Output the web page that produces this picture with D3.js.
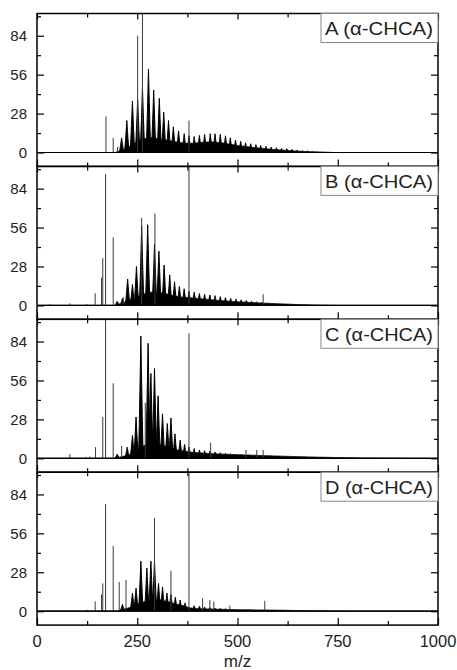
<!DOCTYPE html>
<html>
<head>
<meta charset="utf-8">
<script src="https://cdn.jsdelivr.net/npm/d3@7"></script>
<style>
  html, body { margin: 0; padding: 0; background: #fff; }
  svg { display: block; }
  text { font-family: "Liberation Sans", Arial, sans-serif; fill: #222; }
</style>
</head>
<body>
<svg id="chart" width="457" height="670"></svg>
<script>
// ---- data -------------------------------------------------------------
const panelNames = ["A (α-CHCA)", "B (α-CHCA)", "C (α-CHCA)", "D (α-CHCA)"];

const xMajorTicks = [0, 250, 500, 750, 1000];
const xMinorTicks = [125, 375, 625, 875];
const yMajorTicks = [0, 28, 56, 84];
const yMinorTicks = [14, 42, 70, 98];

// isolated sharp peaks [m/z, intensity]
const sticksA = [[172, 26], [190, 10.5], [201, 4], [251, 84], [263, 130], [379, 23]];
const sticksB = [[32, 1], [82, 1.5], [124, 1], [145, 8.8], [161, 20], [164, 34], [171, 94.5], [190, 49],
                 [215, 6], [261, 63], [294, 66], [379, 130], [564, 8]];
const sticksC = [[82, 3], [122, 1], [132, 1.2], [146, 8], [164, 29.7], [171, 130], [190, 54],
                 [211, 9], [270, 40], [379, 90], [433, 11.3], [521, 6], [548, 6], [564, 6]];
const sticksD = [[125, 1], [145, 7], [161, 12], [164, 20], [171, 77], [190, 47], [205, 21], [222, 22.6],
                 [293, 67], [334, 29], [379, 130], [413, 9.3], [431, 8], [441, 7], [481, 4], [568, 7.5]];

// clustered peak series [m/z, intensity]
const combA = [[211, 10.5], [224, 23], [238, 37], [251, 38], [263, 47], [278, 60], [291, 45], [305, 39],
               [316, 29], [328, 23], [340, 18.5], [353, 15.5], [367, 13.5], [379, 12], [392, 11.5],
               [405, 12.3], [418, 13], [432, 13.5], [444, 13.5], [457, 13], [470, 12], [482, 10.5],
               [495, 9], [508, 8], [520, 7], [533, 6.3], [546, 5.6], [558, 5], [571, 4.4], [584, 3.9],
               [597, 3.4], [610, 3], [623, 2.7], [636, 2.2], [649, 1.8], [662, 1.4], [675, 1.1],
               [688, 0.8], [700, 0.6], [713, 0.4]];
const combB = [[200, 3], [213, 5], [226, 19], [238, 15], [248, 28], [261, 57], [276, 58], [293, 44],
               [304, 39], [317, 29], [331, 22], [343, 17], [355, 13.6], [367, 12], [379, 10], [392, 9.5],
               [405, 8.5], [418, 8], [431, 7.5], [444, 7], [457, 6.3], [470, 5.6], [483, 5], [496, 4.5],
               [509, 4], [522, 3.5], [535, 3], [548, 2.6], [561, 2.2], [574, 1.8], [587, 1.5], [600, 1.2],
               [613, 1], [626, 0.8], [639, 0.6], [652, 0.4]];
const combC = [[200, 3], [225, 8], [238, 16.4], [247, 29.7], [259, 88], [277, 82.7], [284, 61],
               [293, 64.6], [302, 45], [313, 32], [325, 25], [334, 29], [344, 17.6], [357, 13], [368, 10],
               [379, 8], [392, 7], [405, 6], [418, 5.5], [431, 5], [444, 4.5], [457, 4], [470, 3.6],
               [483, 3.2], [496, 3], [509, 2.7], [522, 2.4], [535, 2.2], [548, 2], [561, 1.8], [574, 1.6],
               [587, 1.4], [600, 1.2], [613, 1]];
const combD = [[213, 5], [238, 13], [247, 16.5], [259, 36], [274, 31], [284, 36], [293, 36], [303, 20],
               [313, 17.5], [324, 13], [334, 12], [345, 10], [357, 8], [369, 6], [392, 4], [405, 3.5],
               [418, 3], [431, 2.6], [444, 2.3], [457, 2], [470, 1.8], [483, 1.5], [496, 1.3]];

// unresolved background level under the clusters [m/z, intensity]
const floorA = [[0, 0], [195, 0], [220, 2.5], [240, 6], [260, 9.5], [280, 10.5], [300, 10], [320, 9], [340, 8],
                [360, 7], [380, 6.5], [400, 7], [420, 7.5], [440, 7.5], [460, 7], [480, 6], [500, 5],
                [540, 3.6], [580, 2.4], [620, 1.5], [660, 0.8], [700, 0.4], [740, 0], [1000, 0]];
const floorB = [[0, 0], [195, 0], [220, 2.5], [240, 5], [260, 7.5], [280, 9.5], [300, 9.5], [320, 8.5], [340, 7],
                [360, 6], [380, 5.5], [400, 5], [450, 3.6], [500, 2.6], [550, 1.8], [600, 1.2], [650, 0.6],
                [700, 0.2], [750, 0], [1000, 0]];
const floorC = [[0, 0], [195, 0], [230, 2.5], [250, 6], [270, 9.5], [290, 10.5], [310, 9.5], [330, 8], [350, 6],
                [370, 5], [390, 4.2], [420, 3.6], [460, 3], [500, 2.6], [550, 2.1], [600, 1.6], [650, 1.2],
                [700, 0.8], [800, 0.3], [900, 0.1], [1000, 0]];
const floorD = [[0, 0], [200, 0], [230, 2.5], [250, 5], [270, 7], [290, 8.5], [310, 8], [330, 6.5], [350, 5],
                [370, 3.6], [380, 2.4], [400, 1.8], [450, 1.4], [500, 1.1], [600, 0.7], [700, 0.3], [800, 0],
                [1000, 0]];

const panels = [
  { name: panelNames[0], sticks: sticksA, comb: combA, floor: floorA },
  { name: panelNames[1], sticks: sticksB, comb: combB, floor: floorB },
  { name: panelNames[2], sticks: sticksC, comb: combC, floor: floorC },
  { name: panelNames[3], sticks: sticksD, comb: combD, floor: floorD }
];

// ---- layout -----------------------------------------------------------
const plotLeft = 37, plotRight = 438, plotTop = 13.5, panelH = 152.9;
const combHalfWidth = 6;   // m/z half-width of each clustered peak at its base

const svg = d3.select("#chart");
const x = d3.scaleLinear().domain([0, 1000]).range([plotLeft, plotRight]);

panels.forEach((p, i) => {
  const top = plotTop + i * panelH;
  const y = d3.scaleLinear().domain([-10, 100]).range([top + panelH, top]);
  const g = svg.append("g");

  const clipId = "clip" + i;
  svg.append("clipPath").attr("id", clipId)
    .append("rect").attr("x", plotLeft).attr("y", top).attr("width", plotRight - plotLeft).attr("height", panelH);
  const inner = g.append("g").attr("clip-path", `url(#${clipId})`);

  // spectrum envelope: background level plus clustered peaks
  const floorFn = d3.scaleLinear().domain(p.floor.map(d => d[0])).range(p.floor.map(d => d[1])).clamp(true);
  const grid = d3.range(0, 1000.001, 0.5);
  const profile = grid.map(m => {
    let v = floorFn(m);
    for (const [c, h] of p.comb) {
      const t = 1 - Math.abs(m - c) / combHalfWidth;
      if (t > 0) v = Math.max(v, h * Math.pow(t, 1.2));
    }
    return [m, v];
  });
  const area = d3.area().x(d => x(d[0])).y0(y(0)).y1(d => y(d[1]));
  inner.append("path").datum(profile).attr("d", area)
    .attr("fill", "#000").attr("stroke", "#000").attr("stroke-width", 1);

  // sharp peaks
  inner.selectAll("line.stick").data(p.sticks).enter().append("line")
    .attr("class", "stick")
    .attr("x1", d => x(d[0])).attr("x2", d => x(d[0]))
    .attr("y1", y(0)).attr("y2", d => y(d[1]))
    .attr("stroke", "#3a3a3a").attr("stroke-width", 1);

  // zero line
  inner.append("line").attr("x1", plotLeft).attr("x2", plotRight).attr("y1", y(0)).attr("y2", y(0))
    .attr("stroke", "#000").attr("stroke-width", 1.2);

  // axes with inward ticks on all four sides
  const yAxisL = d3.axisRight(y).tickValues(yMajorTicks).tickSize(7).tickFormat("");
  const yAxisLm = d3.axisRight(y).tickValues(yMinorTicks).tickSize(4).tickFormat("");
  const yAxisR = d3.axisLeft(y).tickValues(yMajorTicks).tickSize(7).tickFormat("");
  const yAxisRm = d3.axisLeft(y).tickValues(yMinorTicks).tickSize(4).tickFormat("");
  const xAxisT = d3.axisBottom(x).tickValues(xMajorTicks).tickSize(6).tickFormat("");
  const xAxisTm = d3.axisBottom(x).tickValues(xMinorTicks).tickSize(4).tickFormat("");
  const xAxisB = d3.axisTop(x).tickValues(xMajorTicks).tickSize(7).tickFormat("");
  const xAxisBm = d3.axisTop(x).tickValues(xMinorTicks).tickSize(4).tickFormat("");

  const axes = [
    [yAxisL, `translate(${plotLeft},0)`], [yAxisLm, `translate(${plotLeft},0)`],
    [yAxisR, `translate(${plotRight},0)`], [yAxisRm, `translate(${plotRight},0)`],
    [xAxisT, `translate(0,${top})`], [xAxisTm, `translate(0,${top})`],
    [xAxisB, `translate(0,${top + panelH})`], [xAxisBm, `translate(0,${top + panelH})`]
  ];
  axes.forEach(([ax, tr]) => {
    const a = g.append("g").attr("transform", tr).call(ax);
    a.select(".domain").remove();
    a.selectAll("line").attr("stroke", "#000").attr("stroke-width", 1.2);
  });

  // y tick labels
  g.selectAll("text.ylab").data(yMajorTicks).enter().append("text")
    .attr("class", "ylab")
    .attr("x", 27).attr("y", d => y(d)).attr("dy", "0.36em")
    .attr("text-anchor", "end").attr("font-size", 15)
    .text(d => d);

  // frame
  g.append("rect").attr("x", plotLeft).attr("y", top).attr("width", plotRight - plotLeft).attr("height", panelH)
    .attr("fill", "none").attr("stroke", "#000").attr("stroke-width", 1.5);

  // panel label box
  const boxW = 117, boxH = 29;
  g.append("rect").attr("x", plotRight - boxW).attr("y", top).attr("width", boxW).attr("height", boxH)
    .attr("fill", "#fff").attr("stroke", "#888").attr("stroke-width", 1);
  g.append("text").attr("x", plotRight - boxW + 4).attr("y", top + 21.5)
    .attr("font-size", 19).attr("textLength", 108).attr("lengthAdjust", "spacingAndGlyphs")
    .text(p.name);
});

// bottom axis labels
const bottom = plotTop + 4 * panelH;
svg.selectAll("text.xlab").data(xMajorTicks).enter().append("text")
  .attr("class", "xlab")
  .attr("x", d => x(d)).attr("y", bottom + 22)
  .attr("text-anchor", "middle").attr("font-size", 16.5)
  .text(d => d);

svg.append("text").attr("x", (plotLeft + plotRight) / 2).attr("y", bottom + 42)
  .attr("text-anchor", "middle").attr("font-size", 17)
  .text("m/z");
</script>
</body>
</html>
